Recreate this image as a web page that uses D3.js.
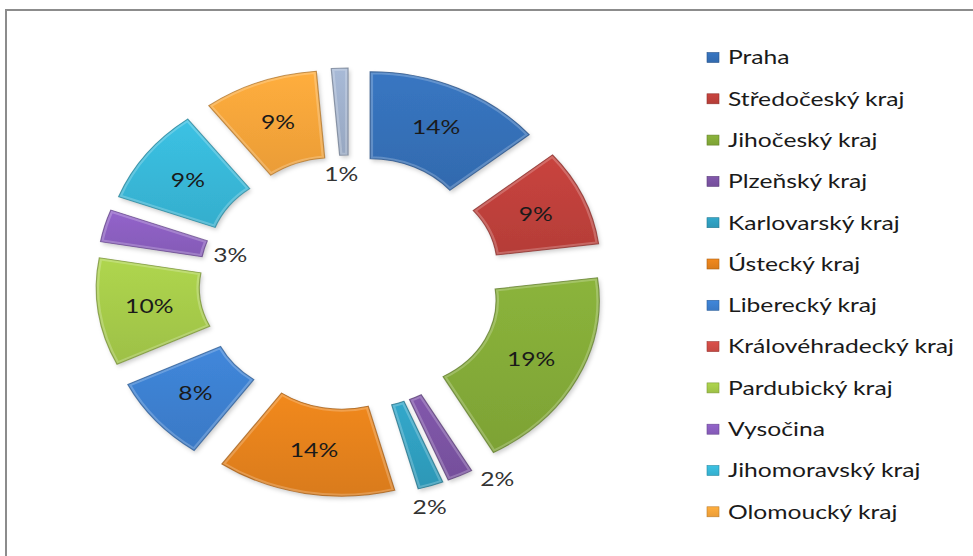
<!DOCTYPE html>
<html><head><meta charset="utf-8">
<script src="https://cdn.jsdelivr.net/npm/d3@7"></script>
<style>html,body{margin:0;padding:0;background:#fff;} svg{display:block;font-family:Lato,"Open Sans",sans-serif;}</style>
</head><body><svg id="c" width="973" height="556"></svg>
<script>
// ---- data ----
const categories = ["Praha","Středočeský kraj","Jihočeský kraj","Plzeňský kraj","Karlovarský kraj","Ústecký kraj","Liberecký kraj","Královéhradecký kraj","Pardubický kraj","Vysočina","Jihomoravský kraj","Olomoucký kraj","Zlínský kraj"];
const values = [14,9,19,2,2,14,8,0,10,3,9,9,1.3];
const colors = ["#3570b8","#bf403b","#84ab38","#7b53a3","#2f9fc0","#e5821c","#3d80d0","#d04c46","#a6cb4a","#8b5fc0","#38b8d8","#f7a53a","#9fb0cc"];
const legendItems = categories.slice(0, 12);

// ---- layout ----
const cx = 350, cy = 282.4, sx = 1.186, r0 = 87.4, r1 = 174.4, explode = 40;
const svg = d3.select("#c");
svg.append("rect").attr("x",6).attr("y",10).attr("width",1000).attr("height",600)
  .attr("fill","#fff").attr("stroke","#8c8c8c").attr("stroke-width",2);

const defs = svg.append("defs");
const f = defs.append("filter").attr("id","sh").attr("x","-30%").attr("y","-30%").attr("width","160%").attr("height","160%");
f.append("feDropShadow").attr("dx",1.5).attr("dy",2.5).attr("stdDeviation",2).attr("flood-color","#000").attr("flood-opacity",0.2);
colors.forEach((c,i)=>{
  const g = defs.append("linearGradient").attr("id","g"+i).attr("x1",0).attr("y1",0).attr("x2",0).attr("y2",1);
  g.append("stop").attr("offset","0%").attr("stop-color", d3.color(c).brighter(0.15));
  g.append("stop").attr("offset","100%").attr("stop-color", d3.color(c).darker(0.15));
});

const data = categories.map((c,i)=>({name:c, v:values[i], color:colors[i], i}));
const pie = d3.pie().sort(null).value(d=>d.v);
const arcs = pie(data).filter(a=>a.data.v>0);
const arc = d3.arc().innerRadius(r0).outerRadius(r1);
const total = d3.sum(values);
const fmt = v => d3.format(".0%")(v/total);
const mid = a => (a.startAngle+a.endAngle)/2;

const gPie = svg.append("g").attr("transform",`translate(${cx},${cy}) scale(${sx},1)`);
const sl = gPie.selectAll("g.s").data(arcs).join("g").attr("class","s")
  .attr("transform", a=>`translate(${explode*Math.sin(mid(a))},${-explode*Math.cos(mid(a))})`);
sl.each(function(a){
  const s = d3.select(this);
  const id = "cp"+a.data.i;
  defs.append("clipPath").attr("id",id).append("path").attr("d",arc(a));
  s.append("path").attr("d",arc(a)).attr("fill",`url(#g${a.data.i})`).attr("filter","url(#sh)");
  s.append("path").attr("d",arc(a)).attr("fill","none").attr("stroke","#fff").attr("stroke-opacity",0.22)
    .attr("stroke-width",5).attr("clip-path",`url(#${id})`);
  s.append("path").attr("d",arc(a)).attr("fill","none").attr("stroke",d3.color(a.data.color).darker(1))
    .attr("stroke-width",1).attr("stroke-opacity",0.75);
});

// ---- text scaling measured from legend ----
const fontSize = 19.5;
const probe = svg.append("text").attr("font-size",fontSize).text("Královéhradecký kraj");
const probeW = probe.node().getComputedTextLength();
probe.remove();
const tsx = 226 / probeW;

// ---- labels ----
const labelMode = {"Zlínský kraj":"inner","Vysočina":"inner","Karlovarský kraj":"outer","Plzeňský kraj":"side"};
const gLab = svg.append("g");
arcs.forEach(a=>{
  const m = mid(a), sn = Math.sin(m), cs = Math.cos(m);
  const ox = explode*sn, oy = -explode*cs;
  const mode = labelMode[a.data.name] || "center";
  const t = gLab.append("text").attr("font-size",fontSize).attr("text-anchor","middle").attr("dy","0.35em")
    .attr("fill", mode==="center" ? "#1a1a1a" : "#333").text(fmt(a.data.v));
  const w = t.node().getComputedTextLength()*tsx/sx;  // unscaled width
  const hw = w/2, hh = 9;
  const ext = Math.abs(sn)*hw + Math.abs(cs)*hh;
  let ux, uy;
  if (mode==="center") { const c = arc.centroid(a); ux = c[0]+ox; uy = c[1]+oy; }
  else if (mode==="inner") { const r = r0-9.5-ext; ux = ox + r*sn - 3; uy = oy - r*cs; }
  else if (mode==="outer") { const r = r1+9.5+ext; ux = ox + r*sn - 8; uy = oy - r*cs; }
  else { ux = ox + r1*sn + 20/sx + hw; uy = oy - r1*cs + 4; }
  t.attr("transform",`translate(${cx+sx*ux},${cy+uy}) scale(${tsx},1)`);
});

// ---- legend ----
const gLeg = svg.append("g");
const rows = gLeg.selectAll("g").data(legendItems).join("g")
  .attr("transform",(d,i)=>`translate(707,${57.5+41.3*i})`);
rows.append("rect").attr("x",0).attr("y",-5).attr("width",12).attr("height",10)
  .attr("fill",(d,i)=>`url(#g${i})`).attr("stroke",(d,i)=>d3.color(colors[i]).darker(0.8)).attr("stroke-width",0.6);
rows.append("text").attr("font-size",fontSize).attr("dy","0.35em").attr("fill","#1a1a1a")
  .attr("transform",`translate(21,0) scale(${tsx},1)`).text(d=>d);
</script></body></html>
